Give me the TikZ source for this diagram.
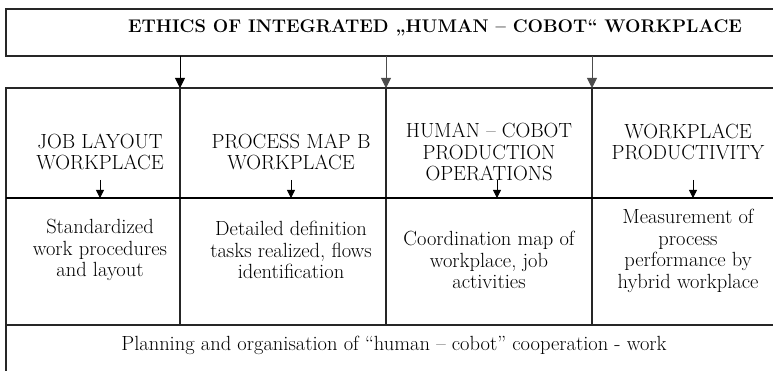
\documentclass[tikz,border=0pt]{standalone}
\usetikzlibrary{arrows.meta}
\tikzset{
  grid/.style={line width=1.1pt, draw=black!85},
  thick rule/.style={line width=2.6pt, draw=black},
  feed/.style={line width=0.9pt, draw=black!70, -{Triangle[width=10pt,length=10pt]}},
  small/.style={line width=0.8pt, draw=black, -{Triangle[width=8pt,length=8pt]}},
  lbl/.style={align=center, font=\fontsize{20.5}{21.5}\selectfont, inner sep=0pt},
}
\begin{document}
\begin{tikzpicture}[x=1pt,y=-1pt]
\useasboundingbox (0,0) rectangle (773,371);
% top box
\draw[grid] (773,9) -- (6,9) -- (6,56) -- (773,56);
\node[font=\fontsize{18.3}{22}\selectfont\bfseries, inner sep=0pt] (title) at (435,28) {ETHICS OF INTEGRATED „HUMAN -- COBOT`` WORKPLACE};
% coordinates for feed arrows
\coordinate (f1) at (180,56); \coordinate (t1) at (180,88);
\coordinate (f2) at (386,56); \coordinate (t2) at (386,88);
\coordinate (f3) at (592,56); \coordinate (t3) at (592,88);
% main grid
\draw[grid] (773,88) -- (6,88) -- (6,371);
\draw[grid] (180,88) -- (180,325);
\draw[grid] (386,88) -- (386,325);
\draw[grid] (592,88) -- (592,325);
\draw[grid] (6,325) -- (773,325);
\draw[thick rule] (6,198) -- (773,198);
\draw[feed, draw=black] (f1) -- (t1);
\draw[feed] (f2) -- (t2);
\draw[feed] (f3) -- (t3);
% headers
\node[lbl] (h1) at (100,152) {JOB LAYOUT\\WORKPLACE};
\node[lbl] (h2) at (291,152) {PROCESS MAP B\\WORKPLACE};
\node[lbl] (h3) at (489,152) {HUMAN -- COBOT\\PRODUCTION\\OPERATIONS};
\node[lbl] (h4) at (688,142) {WORKPLACE\\PRODUCTIVITY};
% small arrows
\coordinate (s1a) at (100,180); \coordinate (s1b) at (100,198);
\coordinate (s2a) at (291,180); \coordinate (s2b) at (291,198);
\coordinate (s3a) at (497,180); \coordinate (s3b) at (497,198);
\coordinate (s4a) at (693,180); \coordinate (s4b) at (693,198);
\draw[small] (s1a) -- (s1b);
\draw[small] (s2a) -- (s2b);
\draw[small] (s3a) -- (s3b);
\draw[small] (s4a) -- (s4b);
% lower texts
\node[lbl] (b1) at (100,250) {Standardized\\work procedures\\and layout};
\node[lbl] (b2) at (291,250) {Detailed definition\\tasks realized, flows\\identification};
\node[lbl] (b3) at (489,260) {Coordination map of\\workplace, job\\activities};
\node[lbl] (b4) at (688,251) {Measurement of\\process\\performance by\\hybrid workplace};
% bottom
\node[lbl] (bottom) at (394,345) {Planning and organisation of ``human -- cobot'' cooperation - work};
\end{tikzpicture}
\end{document}
